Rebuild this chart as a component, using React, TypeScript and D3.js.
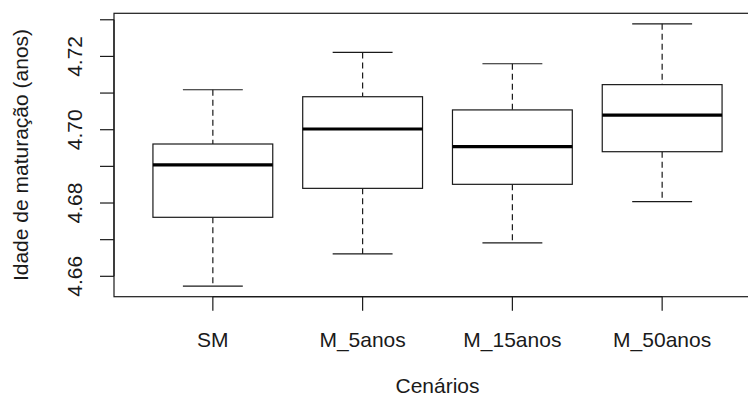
import React from "react";
import * as d3 from "d3";

// Five-number summaries per scenario
const categories = ["SM", "M_5anos", "M_15anos", "M_50anos"];
const whiskerLow = [4.6573, 4.6661, 4.6691, 4.6804];
const boxLow = [4.6761, 4.684, 4.6851, 4.694];
const medians = [4.6904, 4.7002, 4.6954, 4.704];
const boxHigh = [4.6961, 4.709, 4.7054, 4.7123];
const whiskerHigh = [4.7109, 4.7211, 4.718, 4.7289];

const yTickValues = [4.66, 4.67, 4.68, 4.69, 4.70, 4.71, 4.72, 4.73];
const yTickLabels = ["4.66", "", "4.68", "", "4.70", "", "4.72", ""];

const xTitle = "Cenários";
const yTitle = "Idade de maturação (anos)";

const W = 748;
const H = 401;
const plot = { left: 114, top: 13.3, right: 761, bottom: 296.7 };
const FONT = "'Liberation Sans', Arial, Helvetica, sans-serif";
const FS = 21;
const INK = "#1a1a1a";

export default function App() {
  const n = categories.length;
  // R-style 4% padding around the data range
  const xLo = 0.5, xHi = n + 0.5;
  const xPad = (xHi - xLo) * 0.04;
  const x = d3.scaleLinear().domain([xLo - xPad, xHi + xPad]).range([plot.left, plot.right]);

  const dMin = d3.min(whiskerLow)!;
  const dMax = d3.max(whiskerHigh)!;
  const yPad = (dMax - dMin) * 0.04;
  const y = d3.scaleLinear().domain([dMin - yPad, dMax + yPad]).range([plot.bottom, plot.top]);

  const unit = x(2) - x(1);
  const boxW = unit * 0.8;
  const capW = unit * 0.4;
  const tickLen = 14;
  const sw = 1.2;

  return (
    <svg
      width={W}
      height={H}
      style={{ position: "absolute", left: 0, top: 0, background: "#fff" }}
      fontFamily={FONT}
    >
      <rect x={0} y={0} width={W} height={H} fill="#fff" />
      {categories.map((c, i) => {
        const cx = x(i + 1);
        return (
          <g key={c} stroke={INK} fill="none">
            {/* whiskers */}
            <line x1={cx} x2={cx} y1={y(whiskerHigh[i])} y2={y(boxHigh[i])} strokeDasharray="6,4" strokeWidth={sw} />
            <line x1={cx} x2={cx} y1={y(boxLow[i])} y2={y(whiskerLow[i])} strokeDasharray="6,4" strokeWidth={sw} />
            <line x1={cx - capW / 2} x2={cx + capW / 2} y1={y(whiskerHigh[i])} y2={y(whiskerHigh[i])} strokeWidth={sw} />
            <line x1={cx - capW / 2} x2={cx + capW / 2} y1={y(whiskerLow[i])} y2={y(whiskerLow[i])} strokeWidth={sw} />
            {/* box */}
            <rect
              x={cx - boxW / 2}
              y={y(boxHigh[i])}
              width={boxW}
              height={y(boxLow[i]) - y(boxHigh[i])}
              fill="#fff"
              strokeWidth={sw}
            />
            {/* median */}
            <line x1={cx - boxW / 2} x2={cx + boxW / 2} y1={y(medians[i])} y2={y(medians[i])} stroke="#000" strokeWidth={3.2} />
          </g>
        );
      })}

      {/* plot frame */}
      <rect
        x={plot.left}
        y={plot.top}
        width={plot.right - plot.left}
        height={plot.bottom - plot.top}
        fill="none"
        stroke={INK}
        strokeWidth={sw}
      />

      {/* x axis */}
      <g stroke={INK} strokeWidth={sw}>
        <line x1={x(1)} x2={x(n)} y1={plot.bottom} y2={plot.bottom} />
        {categories.map((c, i) => (
          <line key={c} x1={x(i + 1)} x2={x(i + 1)} y1={plot.bottom} y2={plot.bottom + tickLen} />
        ))}
      </g>
      {categories.map((c, i) => (
        <text key={c} x={x(i + 1)} y={346.5} textAnchor="middle" fontSize={FS} fill={INK}>
          {c}
        </text>
      ))}
      <text x={(plot.left + plot.right) / 2} y={393} textAnchor="middle" fontSize={FS} fill={INK}>
        {xTitle}
      </text>

      {/* y axis */}
      <g stroke={INK} strokeWidth={sw}>
        <line
          x1={plot.left}
          x2={plot.left}
          y1={y(yTickValues[0])}
          y2={y(yTickValues[yTickValues.length - 1])}
        />
        {yTickValues.map((v) => (
          <line key={v} x1={plot.left - tickLen} x2={plot.left} y1={y(v)} y2={y(v)} />
        ))}
      </g>
      {yTickValues.map((v, i) =>
        yTickLabels[i] ? (
          <text
            key={v}
            transform={`translate(82,${y(v)}) rotate(-90)`}
            textAnchor="middle"
            fontSize={FS}
            fill={INK}
          >
            {yTickLabels[i]}
          </text>
        ) : null
      )}
      <text
        transform={`translate(28,${(plot.top + plot.bottom) / 2}) rotate(-90)`}
        textAnchor="middle"
        fontSize={FS}
        fill={INK}
      >
        {yTitle}
      </text>
    </svg>
  );
}
